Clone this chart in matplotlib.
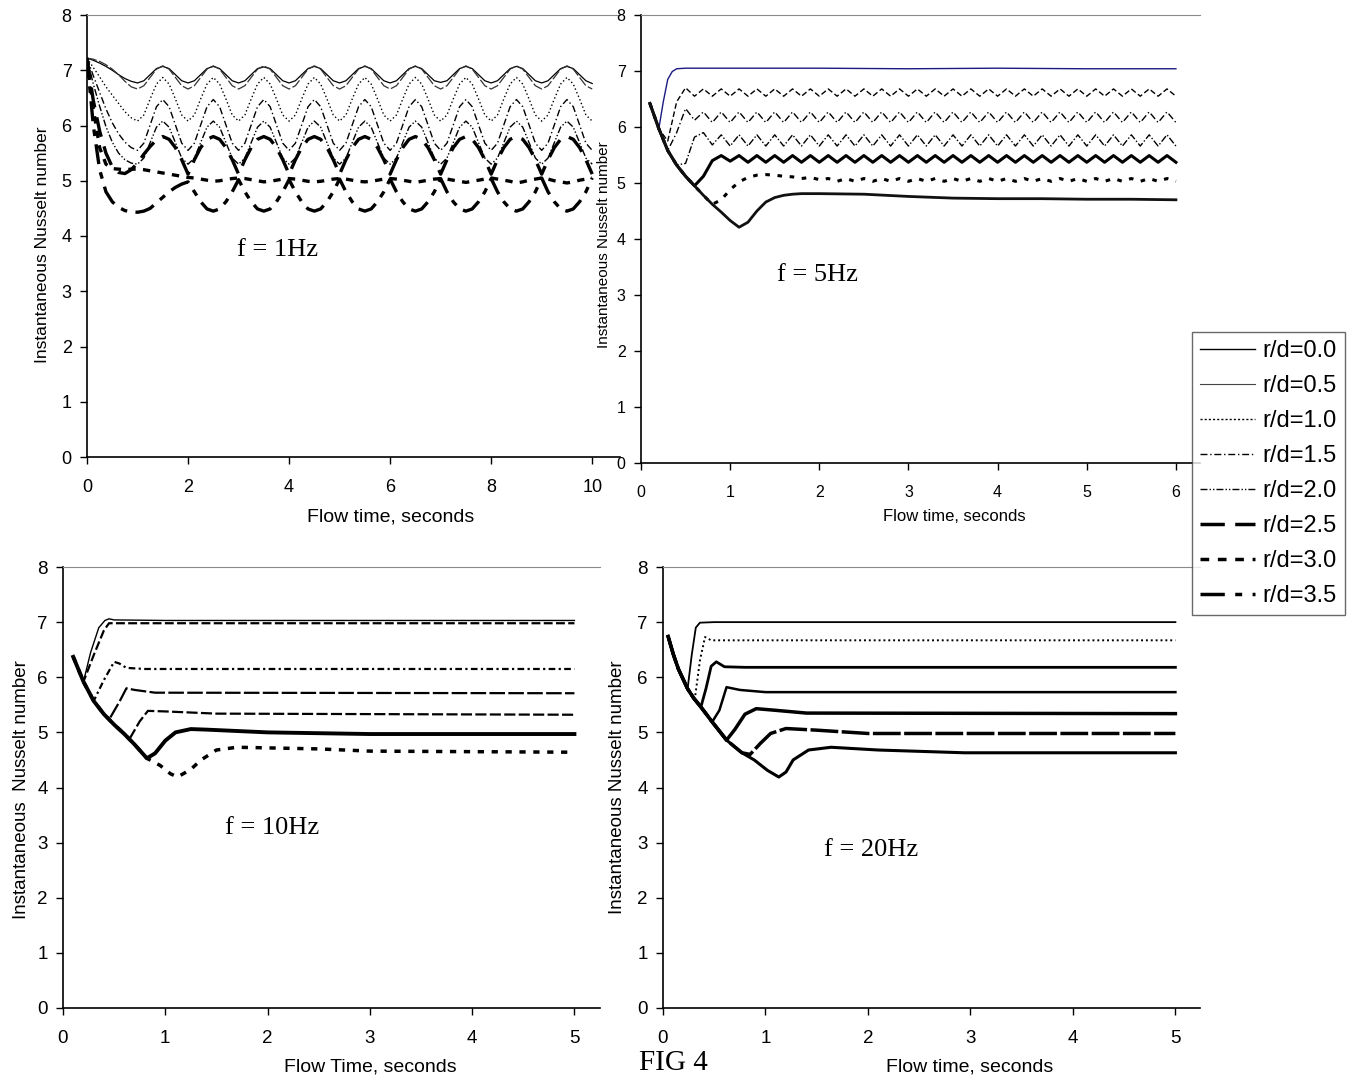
import numpy as np
import matplotlib.pyplot as plt
from matplotlib.lines import Line2D

plt.rcParams["font.family"] = ["Liberation Sans", "DejaVu Sans"]

W, H = 1355, 1080

# ============================================
# f = 1Hz  (values read every 0.125 s)
# ============================================

t_1hz = np.linspace(0, 10, 81)

nu_1hz_00 = [
    7.22, 7.18, 7.13, 7.07, 7.00, 6.92, 6.85, 6.80, 6.77, 6.81, 6.92, 7.03,
    7.07, 7.03, 6.92, 6.81, 6.77, 6.81, 6.92, 7.03,
    7.07, 7.03, 6.92, 6.81, 6.77, 6.81, 6.92, 7.03,
    7.06, 7.03, 6.92, 6.81, 6.77, 6.81, 6.92, 7.03,
    7.07, 7.03, 6.92, 6.81, 6.77, 6.81, 6.92, 7.03,
    7.07, 7.03, 6.92, 6.81, 6.77, 6.81, 6.92, 7.03,
    7.07, 7.03, 6.92, 6.81, 6.78, 6.81, 6.92, 7.03,
    7.07, 7.03, 6.92, 6.81, 6.77, 6.81, 6.92, 7.03,
    7.07, 7.03, 6.92, 6.81, 6.77, 6.81, 6.92, 7.03,
    7.07, 7.03, 6.92, 6.81, 6.76]

nu_1hz_05 = [
    7.22, 7.20, 7.16, 7.10, 7.02, 6.92, 6.80, 6.70, 6.66, 6.72, 6.87, 7.02,
    7.08, 7.02, 6.87, 6.72, 6.66, 6.72, 6.87, 7.02,
    7.08, 7.02, 6.87, 6.72, 6.66, 6.72, 6.87, 7.02,
    7.08, 7.02, 6.87, 6.72, 6.66, 6.72, 6.87, 7.02,
    7.08, 7.02, 6.87, 6.72, 6.66, 6.72, 6.87, 7.02,
    7.08, 7.02, 6.87, 6.72, 6.66, 6.72, 6.87, 7.02,
    7.08, 7.02, 6.87, 6.72, 6.66, 6.72, 6.87, 7.02,
    7.08, 7.02, 6.87, 6.72, 6.66, 6.72, 6.87, 7.02,
    7.08, 7.02, 6.87, 6.72, 6.66, 6.72, 6.87, 7.02,
    7.08, 7.02, 6.87, 6.72, 6.66]

nu_1hz_10 = [
    7.22, 7.05, 6.88, 6.70, 6.55, 6.40, 6.25, 6.14, 6.08, 6.19, 6.48, 6.75,
    6.87, 6.75, 6.48, 6.19, 6.08, 6.19, 6.48, 6.75,
    6.87, 6.75, 6.48, 6.19, 6.08, 6.19, 6.48, 6.75,
    6.87, 6.75, 6.48, 6.19, 6.08, 6.19, 6.48, 6.75,
    6.87, 6.75, 6.48, 6.19, 6.08, 6.19, 6.48, 6.75,
    6.87, 6.75, 6.48, 6.19, 6.08, 6.19, 6.48, 6.75,
    6.87, 6.75, 6.48, 6.19, 6.08, 6.19, 6.48, 6.75,
    6.87, 6.75, 6.48, 6.19, 6.08, 6.19, 6.48, 6.75,
    6.87, 6.75, 6.48, 6.19, 6.08, 6.19, 6.48, 6.75,
    6.87, 6.75, 6.48, 6.19, 6.08]

nu_1hz_15 = [
    7.22, 6.90, 6.60, 6.30, 6.05, 5.85, 5.70, 5.60, 5.55, 5.68, 6.01, 6.34,
    6.47, 6.34, 6.01, 5.68, 5.55, 5.68, 6.01, 6.34,
    6.47, 6.34, 6.01, 5.68, 5.55, 5.68, 6.01, 6.34,
    6.47, 6.34, 6.01, 5.68, 5.55, 5.68, 6.01, 6.34,
    6.47, 6.34, 6.01, 5.68, 5.55, 5.68, 6.01, 6.34,
    6.47, 6.34, 6.01, 5.68, 5.55, 5.68, 6.01, 6.34,
    6.47, 6.34, 6.01, 5.68, 5.55, 5.68, 6.01, 6.34,
    6.47, 6.34, 6.01, 5.68, 5.55, 5.68, 6.01, 6.34,
    6.47, 6.34, 6.01, 5.68, 5.55, 5.68, 6.01, 6.34,
    6.47, 6.34, 6.01, 5.68, 5.55]

nu_1hz_20 = [
    7.22, 6.75, 6.35, 5.98, 5.70, 5.50, 5.38, 5.32, 5.30, 5.41, 5.69, 5.97,
    6.08, 5.97, 5.69, 5.41, 5.30, 5.41, 5.69, 5.97,
    6.08, 5.97, 5.69, 5.41, 5.30, 5.41, 5.69, 5.97,
    6.08, 5.97, 5.69, 5.41, 5.30, 5.41, 5.69, 5.97,
    6.08, 5.97, 5.69, 5.41, 5.30, 5.41, 5.69, 5.97,
    6.08, 5.97, 5.69, 5.41, 5.30, 5.41, 5.69, 5.97,
    6.08, 5.97, 5.69, 5.41, 5.30, 5.41, 5.69, 5.97,
    6.08, 5.97, 5.69, 5.41, 5.30, 5.41, 5.69, 5.97,
    6.08, 5.97, 5.69, 5.41, 5.30, 5.41, 5.69, 5.97,
    6.08, 5.97, 5.69, 5.41, 5.30]

nu_1hz_25 = [
    7.22, 6.45, 5.90, 5.50, 5.25, 5.15, 5.13, 5.20, 5.32, 5.48, 5.62, 5.74,
    5.80, 5.75, 5.60, 5.38, 5.12, 5.38, 5.60, 5.75,
    5.80, 5.75, 5.60, 5.38, 5.12, 5.38, 5.60, 5.75,
    5.80, 5.75, 5.60, 5.38, 5.12, 5.38, 5.60, 5.75,
    5.80, 5.75, 5.60, 5.38, 5.12, 5.38, 5.60, 5.75,
    5.80, 5.75, 5.60, 5.38, 5.12, 5.38, 5.60, 5.75,
    5.80, 5.75, 5.60, 5.38, 5.12, 5.38, 5.60, 5.75,
    5.80, 5.75, 5.60, 5.38, 5.12, 5.38, 5.60, 5.75,
    5.80, 5.75, 5.60, 5.38, 5.12, 5.38, 5.60, 5.75,
    5.80, 5.75, 5.60, 5.38, 5.12]

nu_1hz_30 = [
    7.22, 6.30, 5.60, 5.30, 5.22, 5.21, 5.20, 5.21, 5.21, 5.20, 5.18, 5.16,
    5.14, 5.12, 5.10, 5.08, 5.06, 5.05, 5.03, 5.01,
    4.99, 5.00, 5.02, 5.04, 5.05, 5.04, 5.02, 5.00,
    4.98, 4.99, 5.01, 5.03, 5.04, 5.03, 5.01, 4.99,
    4.98, 4.99, 5.01, 5.03, 5.04, 5.03, 5.01, 4.99,
    4.98, 4.99, 5.01, 5.03, 5.04, 5.03, 5.01, 4.99,
    4.97, 4.99, 5.01, 5.03, 5.04, 5.03, 5.01, 4.99,
    4.97, 4.99, 5.01, 5.03, 5.05, 5.03, 5.01, 4.99,
    4.96, 4.98, 5.01, 5.03, 5.05, 5.03, 5.00, 4.98,
    4.96, 4.98, 5.01, 5.03, 5.05]

nu_1hz_35 = [
    7.22, 6.00, 5.20, 4.80, 4.62, 4.52, 4.46, 4.44, 4.43, 4.45, 4.50, 4.60,
    4.70, 4.80, 4.88, 4.94, 4.98, 4.80, 4.62, 4.49,
    4.45, 4.49, 4.62, 4.80, 5.02, 4.80, 4.62, 4.49,
    4.45, 4.49, 4.62, 4.80, 5.02, 4.80, 4.62, 4.49,
    4.45, 4.49, 4.62, 4.80, 5.03, 4.80, 4.62, 4.49,
    4.45, 4.49, 4.62, 4.80, 5.03, 4.80, 4.62, 4.49,
    4.45, 4.49, 4.62, 4.80, 5.04, 4.80, 4.62, 4.49,
    4.45, 4.49, 4.62, 4.80, 5.04, 4.80, 4.62, 4.49,
    4.45, 4.49, 4.62, 4.80, 5.05, 4.80, 4.62, 4.49,
    4.45, 4.49, 4.62, 4.80, 5.05]

# ============================================
# f = 5Hz  (values read every 0.1 s)
# ============================================

t_5hz = np.linspace(0.1, 6.0, 60)

t_5hz_00 = [0.1, 0.2, 0.25, 0.3, 0.35, 0.4, 0.5, 1.0, 2.0, 3.0, 4.0, 5.0, 6.0]
nu_5hz_00 = [6.42, 5.97, 6.45, 6.85, 6.99, 7.04, 7.05, 7.05, 7.05, 7.04, 7.05, 7.04, 7.04]

nu_5hz_10 = [
    6.42, 5.97, 5.75, 6.45, 6.70, 6.55, 6.68, 6.55, 6.68, 6.55,
    6.68, 6.55, 6.68, 6.55, 6.68, 6.55, 6.68, 6.55, 6.68, 6.55,
    6.68, 6.55, 6.68, 6.55, 6.68, 6.55, 6.68, 6.55, 6.68, 6.55,
    6.68, 6.55, 6.68, 6.55, 6.68, 6.55, 6.68, 6.55, 6.68, 6.55,
    6.68, 6.55, 6.68, 6.55, 6.68, 6.55, 6.68, 6.55, 6.68, 6.55,
    6.68, 6.55, 6.68, 6.55, 6.68, 6.55, 6.68, 6.55, 6.68, 6.55]

nu_5hz_15 = [
    6.42, 5.97, 5.58, 5.90, 6.33, 6.12, 6.27, 6.08, 6.27, 6.08,
    6.27, 6.08, 6.27, 6.08, 6.27, 6.08, 6.27, 6.08, 6.27, 6.08,
    6.27, 6.08, 6.27, 6.08, 6.27, 6.08, 6.27, 6.08, 6.27, 6.08,
    6.27, 6.08, 6.27, 6.08, 6.27, 6.08, 6.27, 6.08, 6.27, 6.08,
    6.27, 6.08, 6.27, 6.08, 6.27, 6.08, 6.27, 6.08, 6.27, 6.08,
    6.27, 6.08, 6.27, 6.08, 6.27, 6.08, 6.27, 6.08, 6.27, 6.08]

nu_5hz_20 = [
    6.42, 5.97, 5.58, 5.32, 5.35, 5.82, 5.90, 5.68, 5.86, 5.66,
    5.86, 5.66, 5.86, 5.66, 5.86, 5.66, 5.86, 5.66, 5.86, 5.66,
    5.86, 5.66, 5.86, 5.66, 5.86, 5.66, 5.86, 5.66, 5.86, 5.66,
    5.86, 5.66, 5.86, 5.66, 5.86, 5.66, 5.86, 5.66, 5.86, 5.66,
    5.86, 5.66, 5.86, 5.66, 5.86, 5.66, 5.86, 5.66, 5.86, 5.66,
    5.86, 5.66, 5.86, 5.66, 5.86, 5.66, 5.86, 5.66, 5.86, 5.66]

nu_5hz_25 = [
    6.42, 5.97, 5.58, 5.32, 5.12, 4.95, 5.12, 5.40, 5.49, 5.39,
    5.49, 5.37, 5.49, 5.37, 5.49, 5.37, 5.49, 5.37, 5.49, 5.37,
    5.49, 5.37, 5.49, 5.37, 5.49, 5.37, 5.49, 5.37, 5.49, 5.37,
    5.49, 5.37, 5.49, 5.37, 5.49, 5.37, 5.49, 5.37, 5.49, 5.37,
    5.49, 5.37, 5.49, 5.37, 5.49, 5.37, 5.49, 5.37, 5.49, 5.37,
    5.49, 5.37, 5.49, 5.37, 5.49, 5.37, 5.49, 5.37, 5.49, 5.37]

nu_5hz_30 = [
    6.42, 5.97, 5.58, 5.32, 5.12, 4.95, 4.78, 4.62, 4.70, 4.88,
    5.02, 5.10, 5.14, 5.15, 5.14, 5.12, 5.11, 5.08, 5.10, 5.06,
    5.08, 5.03, 5.08, 5.03, 5.08, 5.03, 5.08, 5.03, 5.08, 5.03,
    5.08, 5.03, 5.08, 5.03, 5.08, 5.03, 5.08, 5.03, 5.08, 5.03,
    5.08, 5.03, 5.08, 5.03, 5.08, 5.03, 5.08, 5.03, 5.08, 5.03,
    5.08, 5.03, 5.08, 5.03, 5.08, 5.03, 5.08, 5.03, 5.08, 5.03]

t_5hz_35 = [0.1, 0.2, 0.3, 0.4, 0.5, 0.6, 0.7, 0.8, 0.9, 1.0, 1.1, 1.2, 1.3,
            1.4, 1.5, 1.6, 1.7, 1.8, 2.0, 2.5, 3.0, 3.5, 4.0, 4.5, 5.0, 5.5, 6.0]
nu_5hz_35 = [6.42, 5.97, 5.58, 5.32, 5.12, 4.95, 4.78, 4.62, 4.48, 4.33, 4.21, 4.30, 4.50,
             4.66, 4.74, 4.78, 4.80, 4.81, 4.81, 4.80, 4.76, 4.73, 4.72, 4.72, 4.71, 4.71, 4.70]

# ============================================
# f = 10Hz
# ============================================

t_10hz_00 = [0.10, 0.20, 0.27, 0.35, 0.41, 0.45, 0.50, 1.0, 5.0]
nu_10hz_00 = [6.37, 5.92, 6.45, 6.90, 7.03, 7.06, 7.04, 7.03, 7.03]

t_10hz_05 = [0.10, 0.20, 0.30, 0.40, 0.45, 0.50, 5.0]
nu_10hz_05 = [6.37, 5.92, 6.40, 6.85, 6.98, 6.98, 6.98]

t_10hz_10 = [0.10, 0.20, 0.30, 0.40, 0.50, 0.55, 0.62, 0.80, 5.0]
nu_10hz_10 = [6.37, 5.92, 5.57, 5.95, 6.28, 6.25, 6.17, 6.15, 6.15]

t_10hz_15 = [0.10, 0.20, 0.30, 0.40, 0.45, 0.55, 0.62, 0.70, 0.90, 5.0]
nu_10hz_15 = [6.37, 5.92, 5.57, 5.33, 5.23, 5.55, 5.80, 5.77, 5.72, 5.71]

t_10hz_20 = [0.10, 0.20, 0.30, 0.40, 0.50, 0.60, 0.65, 0.75, 0.83, 1.0, 1.5, 5.0]
nu_10hz_20 = [6.37, 5.92, 5.57, 5.33, 5.14, 4.97, 4.88, 5.20, 5.39, 5.38, 5.34, 5.32]

t_10hz_25 = [0.10, 0.20, 0.30, 0.40, 0.50, 0.60, 0.70, 0.82, 0.90, 1.0, 1.1, 1.25, 1.4, 2.0, 3.0, 5.0]
nu_10hz_25 = [6.37, 5.92, 5.57, 5.33, 5.14, 4.97, 4.78, 4.53, 4.62, 4.85, 5.00, 5.06, 5.05, 5.00, 4.97, 4.97]

t_10hz_35 = [0.10, 0.20, 0.30, 0.40, 0.50, 0.60, 0.70, 0.82, 0.95, 1.05, 1.12, 1.25,
             1.35, 1.5, 1.7, 2.5, 3.0, 5.0]
nu_10hz_35 = [6.37, 5.92, 5.57, 5.33, 5.14, 4.97, 4.78, 4.53, 4.40, 4.25, 4.19, 4.33,
              4.50, 4.68, 4.73, 4.70, 4.66, 4.64]

# ============================================
# f = 20Hz
# ============================================

t_20hz_00 = [0.05, 0.10, 0.15, 0.20, 0.24, 0.28, 0.32, 0.36, 0.50, 5.0]
nu_20hz_00 = [6.74, 6.42, 6.15, 5.95, 5.79, 6.40, 6.90, 6.99, 7.00, 7.00]

t_20hz_10 = [0.05, 0.10, 0.15, 0.20, 0.24, 0.31, 0.36, 0.41, 0.47, 5.0]
nu_20hz_10 = [6.74, 6.42, 6.15, 5.95, 5.79, 5.60, 6.30, 6.73, 6.67, 6.67]

t_20hz_15 = [0.05, 0.10, 0.15, 0.20, 0.24, 0.30, 0.37, 0.42, 0.47, 0.52, 0.60, 0.80, 5.0]
nu_20hz_15 = [6.74, 6.42, 6.15, 5.95, 5.79, 5.62, 5.46, 5.80, 6.20, 6.28, 6.19, 6.18, 6.18]

t_20hz_20 = [0.05, 0.10, 0.15, 0.20, 0.24, 0.30, 0.37, 0.48, 0.55, 0.62, 0.75, 1.0, 5.0]
nu_20hz_20 = [6.74, 6.42, 6.15, 5.95, 5.79, 5.62, 5.46, 5.19, 5.40, 5.82, 5.77, 5.73, 5.73]

t_20hz_25 = [0.05, 0.10, 0.15, 0.20, 0.24, 0.30, 0.37, 0.48, 0.62, 0.70, 0.80, 0.91, 1.1, 1.4, 5.0]
nu_20hz_25 = [6.74, 6.42, 6.15, 5.95, 5.79, 5.62, 5.46, 5.19, 4.86, 5.05, 5.33, 5.43, 5.40, 5.35, 5.34]

t_20hz_30 = [0.05, 0.10, 0.15, 0.20, 0.24, 0.30, 0.37, 0.48, 0.62, 0.77, 0.85, 0.95, 1.05,
             1.2, 1.5, 2.0, 5.0]
nu_20hz_30 = [6.74, 6.42, 6.15, 5.95, 5.79, 5.62, 5.46, 5.19, 4.86, 4.63, 4.60, 4.80, 4.98,
              5.07, 5.04, 4.98, 4.98]

t_20hz_35 = [0.05, 0.10, 0.15, 0.20, 0.24, 0.30, 0.37, 0.48, 0.62, 0.77, 0.89, 1.02, 1.13,
             1.20, 1.27, 1.42, 1.64, 2.1, 2.94, 5.0]
nu_20hz_35 = [6.74, 6.42, 6.15, 5.95, 5.79, 5.62, 5.46, 5.19, 4.86, 4.63, 4.50, 4.31, 4.19,
              4.28, 4.50, 4.68, 4.73, 4.68, 4.63, 4.63]

legend_labels = ["r/d=0.0", "r/d=0.5", "r/d=1.0", "r/d=1.5",
                 "r/d=2.0", "r/d=2.5", "r/d=3.0", "r/d=3.5"]

# ============================================
# HELPERS
# ============================================

fig = plt.figure(figsize=(W / 100, H / 100), dpi=100)


def add_panel(x0, x1, y_top, y_bot):
    return fig.add_axes([x0 / W, 1 - y_bot / H, (x1 - x0) / W, (y_bot - y_top) / H])


def style_panel(ax, xmax, xticks, fs):
    ax.set_xlim(0, xmax)
    ax.set_ylim(0, 8)
    ax.set_xticks(xticks)
    ax.set_yticks(range(9))
    ax.spines["right"].set_visible(False)
    ax.spines["top"].set_color("#8a8a8a")
    ax.spines["left"].set_linewidth(1.2)
    ax.spines["bottom"].set_linewidth(1.2)
    ax.tick_params(direction="out", length=5, width=1, labelsize=fs)
    ax.tick_params(axis="y", pad=6)
    ax.tick_params(axis="x", pad=11)


def put_text(x, y, s, **kw):
    fig.text(x / W, 1 - y / H, s, ha="center", va="center", **kw)


# ============================================
# PANEL 1 - f = 1Hz
# ============================================

ax1 = add_panel(87, 620, 15, 457)
ax1.plot(t_1hz, nu_1hz_00, color="k", lw=0.9)
ax1.plot(t_1hz, nu_1hz_05, color="#333333", lw=0.9, linestyle=(0, (8, 2)))
ax1.plot(t_1hz, nu_1hz_10, color="k", lw=1.0, linestyle=(0, (1, 1.8)))
ax1.plot(t_1hz, nu_1hz_15, color="k", lw=1.0, linestyle=(0, (5, 2, 1, 2)))
ax1.plot(t_1hz, nu_1hz_20, color="k", lw=1.0, linestyle=(0, (5, 1.5, 1, 1.5, 1, 1.5)))
ax1.plot(t_1hz, nu_1hz_25, color="k", lw=2.4, linestyle=(0, (6, 3)))
ax1.plot(t_1hz, nu_1hz_30, color="k", lw=2.4, linestyle=(0, (2.2, 2.2)))
ax1.plot(t_1hz, nu_1hz_35, color="k", lw=2.4, linestyle=(0, (6, 2.5, 2, 2.5)))
style_panel(ax1, 10.55, range(0, 11, 2), 13)
put_text(391, 517, "Flow time, seconds", fontsize=14)
put_text(43, 245, "Instantaneous Nusselt number", fontsize=12.5, rotation=90)
put_text(278, 250, "f = 1Hz", fontsize=19, family="Liberation Serif")

# ============================================
# PANEL 2 - f = 5Hz
# ============================================

ax2 = add_panel(641, 1200, 15, 463)
ax2.plot(t_5hz_00, nu_5hz_00, color="#1a1a80", lw=1.0)
ax2.plot(t_5hz, nu_5hz_10, color="k", lw=1.0, linestyle=(0, (4, 2)))
ax2.plot(t_5hz, nu_5hz_15, color="k", lw=1.0, linestyle=(0, (5, 2, 1, 2)))
ax2.plot(t_5hz, nu_5hz_20, color="k", lw=1.0, linestyle=(0, (5, 1.5, 1, 1.5)))
ax2.plot(t_5hz, nu_5hz_25, color="k", lw=2.2)
ax2.plot(t_5hz, nu_5hz_30, color="k", lw=2.2, linestyle=(0, (1.5, 2.5)))
ax2.plot(t_5hz_35, nu_5hz_35, color="#111111", lw=2.0)
style_panel(ax2, 6.27, range(0, 7), 11.5)
put_text(954, 517, "Flow time, seconds", fontsize=12)
put_text(604, 245, "Instantaneous Nusselt number", fontsize=11, rotation=90)
put_text(817, 275, "f = 5Hz", fontsize=19, family="Liberation Serif")

# ============================================
# PANEL 3 - f = 10Hz
# ============================================

ax3 = add_panel(63, 600, 567, 1008)
ax3.plot(t_10hz_00, nu_10hz_00, color="k", lw=1.0)
ax3.plot(t_10hz_05, nu_10hz_05, color="k", lw=1.6, linestyle=(0, (4, 1.5)))
ax3.plot(t_10hz_10, nu_10hz_10, color="k", lw=1.6, linestyle=(0, (3, 1.5, 1, 1.5)))
ax3.plot(t_10hz_15, nu_10hz_15, color="k", lw=1.6, linestyle=(0, (7, 1.5)))
ax3.plot(t_10hz_20, nu_10hz_20, color="k", lw=1.6, linestyle=(0, (5, 1.5)))
ax3.plot(t_10hz_25, nu_10hz_25, color="k", lw=2.8)
ax3.plot(t_10hz_35, nu_10hz_35, color="k", lw=2.5, linestyle=(0, (1.8, 2.2)))
style_panel(ax3, 5.25, range(0, 6), 13.5)
put_text(370, 1067, "Flow Time, seconds", fontsize=14)
put_text(22, 790, "Instantaneous  Nusselt number", fontsize=13.5, rotation=90)
put_text(272, 828, "f = 10Hz", fontsize=19, family="Liberation Serif")

# ============================================
# PANEL 4 - f = 20Hz
# ============================================

ax4 = add_panel(663, 1200, 567, 1008)
ax4.plot(t_20hz_00, nu_20hz_00, color="k", lw=1.3)
ax4.plot(t_20hz_10, nu_20hz_10, color="k", lw=1.4, linestyle=(0, (1, 1.5)))
ax4.plot(t_20hz_15, nu_20hz_15, color="k", lw=2.0)
ax4.plot(t_20hz_20, nu_20hz_20, color="k", lw=1.8)
ax4.plot(t_20hz_25, nu_20hz_25, color="k", lw=2.5)
ax4.plot(t_20hz_30, nu_20hz_30, color="k", lw=2.5, linestyle=(0, (8, 1)))
ax4.plot(t_20hz_35, nu_20hz_35, color="k", lw=2.2)
style_panel(ax4, 5.24, range(0, 6), 13.5)
put_text(970, 1067, "Flow time, seconds", fontsize=14)
put_text(618, 787, "Instantaneous Nusselt number", fontsize=13.5, rotation=90)
put_text(871, 850, "f = 20Hz", fontsize=19, family="Liberation Serif")

put_text(673, 1063, "FIG 4", fontsize=21, family="Liberation Serif")

# ============================================
# LEGEND
# ============================================

legend_styles = [
    dict(lw=1.0, color="k"),
    dict(lw=0.8, color="#444444"),
    dict(lw=1.0, color="k", linestyle=(0, (1.5, 1.5))),
    dict(lw=1.0, color="k", linestyle=(0, (5, 2, 1, 2))),
    dict(lw=1.0, color="k", linestyle=(0, (5, 1.5, 1, 1.5, 1, 1.5))),
    dict(lw=2.5, color="k", linestyle=(0, (7, 3))),
    dict(lw=2.5, color="k", linestyle=(0, (2.5, 2.5))),
    dict(lw=2.5, color="k", linestyle=(0, (7, 3, 2, 3))),
]
handles = [Line2D([], [], **s) for s in legend_styles]
leg = fig.legend(handles, legend_labels, loc="upper left",
                 bbox_to_anchor=(1192 / W, 1 - 332 / H), fontsize=17,
                 frameon=True, fancybox=False, edgecolor="#444444",
                 borderpad=0.35, labelspacing=0.55, handlelength=2.3,
                 handletextpad=0.35, borderaxespad=0)
leg.get_frame().set_linewidth(1.0)

plt.savefig("out.png", dpi=100)
